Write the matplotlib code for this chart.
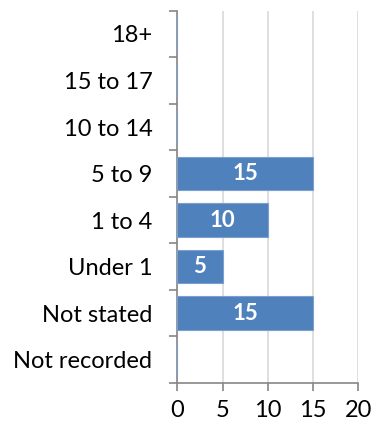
import matplotlib
matplotlib.use("Agg")
import matplotlib.pyplot as plt

plt.rcParams['font.family'] = ['Lato', 'DejaVu Sans']

categories = ['18+', '15 to 17', '10 to 14', '5 to 9', '1 to 4', 'Under 1', 'Not stated', 'Not recorded']
values = [0, 0, 0, 15, 10, 5, 15, 0]
xticks = [0, 5, 10, 15, 20]

fig = plt.figure(figsize=(3.72, 4.33), dpi=100)
ax = fig.add_axes([0.4766, 0.1155, 0.4866, 0.8598])

pos = list(range(len(categories)))
bars = ax.barh(pos, values, height=0.72, color='#4F81BD', edgecolor='#7BA0D0', linewidth=0.8, zorder=3)

for b, v in zip(bars, values):
    if v > 0:
        ax.text(b.get_width() / 2, b.get_y() + b.get_height() / 2, str(v),
                ha='center', va='center', color='white', fontsize=16, fontweight='bold', zorder=4)

ax.set_ylim(len(categories) - 0.5, -0.5)
ax.set_xlim(0, 20)
ax.set_xticks(xticks)
ax.set_xticklabels([str(t) for t in xticks])

# category labels at centres, tick marks at boundaries
ax.set_yticks(pos)
ax.set_yticklabels(categories)
ax.set_yticks([p - 0.5 for p in pos] + [len(categories) - 0.5], minor=True)
ax.tick_params(axis='y', which='major', length=0, pad=18, labelsize=17)
ax.tick_params(axis='y', which='minor', length=6, width=1.2, color='#868686', direction='out')
ax.tick_params(axis='x', length=6, width=1.2, color='#868686', direction='out', pad=6, labelsize=17)

ax.xaxis.grid(True, color='#D9D9D9', linewidth=1.2, zorder=0)
ax.set_axisbelow(True)

for s in ['top', 'right']:
    ax.spines[s].set_visible(False)
for s in ['left', 'bottom']:
    ax.spines[s].set_color('#868686')
    ax.spines[s].set_linewidth(1.2)

fig.savefig('out.png', dpi=100)
